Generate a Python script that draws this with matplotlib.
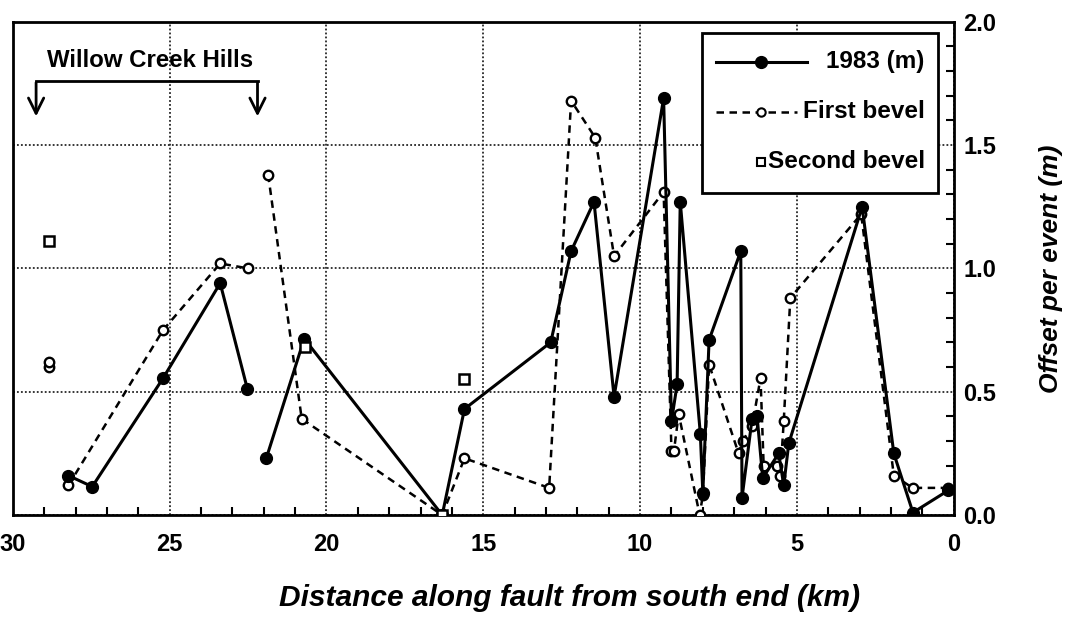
import numpy as np
import matplotlib.pyplot as plt
from matplotlib.lines import Line2D
from matplotlib.patches import Rectangle

plt.rcParams['font.family'] = ['Liberation Sans', 'DejaVu Sans']
plt.rcParams['font.weight'] = 'bold'

# 1983 offsets (m), nan = gap in the line
x_1983 = [28.23, 27.47, 25.21, 23.39, 22.52, np.nan,
          21.92, 20.71, 16.31, 15.60, 12.85, 12.20, 11.47, 10.83, 9.25, 9.00,
          8.82, 8.72, 8.08, 8.00, 7.80, 6.79, 6.75, 6.43, 6.27, 6.09, 5.58,
          5.42, 5.26, 2.92, 1.91, 1.30, 0.17]
y_1983 = [0.16, 0.115, 0.555, 0.94, 0.51, np.nan,
          0.23, 0.715, 0.0, 0.43, 0.70, 1.07, 1.27, 0.48, 1.69, 0.38,
          0.53, 1.27, 0.33, 0.09, 0.71, 1.07, 0.07, 0.39, 0.40, 0.15, 0.25,
          0.12, 0.29, 1.25, 0.25, 0.01, 0.10]

# first bevel
x_first = [28.85, np.nan, 28.85, np.nan,
           28.23, 25.21, 23.39, 22.50, np.nan,
           21.86, 20.79, 16.31, 15.60, 12.90, 12.20, 11.43, 10.83, 9.25, 9.00,
           8.92, 8.77, 8.10, 8.00, 7.80, 6.86, 6.73, 6.43, 6.16, 6.06, 5.64,
           5.53, 5.42, 5.21, 2.95, 1.91, 1.31, 0.18]
y_first = [0.60, np.nan, 0.62, np.nan,
           0.12, 0.75, 1.02, 1.00, np.nan,
           1.38, 0.39, 0.0, 0.23, 0.11, 1.68, 1.53, 1.05, 1.31, 0.26,
           0.26, 0.41, 0.0, 0.08, 0.61, 0.25, 0.30, 0.36, 0.555, 0.20, 0.20,
           0.16, 0.38, 0.88, 1.22, 0.16, 0.11, 0.11]

# second bevel
x_second = [28.85, 20.70, 15.60, 16.31]
y_second = [1.11, 0.68, 0.55, 0.0]

labels = ['1983 (m)', 'First bevel', 'Second bevel']

fig = plt.figure(figsize=(10.74, 6.22), dpi=100)
ax = fig.add_axes([0.012, 0.172, 0.876, 0.793])

style_1983 = dict(color='black', lw=2.2, ls='-', marker='o', mfc='black', mec='black')
style_first = dict(color='black', lw=1.8, ls=(0, (3, 2.2)), marker='o',
                   mfc='white', mec='black')
style_second = dict(ls='none', marker='s', mfc='white', mec='black')

ax.plot(x_first, y_first, ms=6.8, mew=1.7, zorder=3, **style_first)
ax.plot(x_1983, y_1983, ms=8.5, zorder=4, **style_1983)
ax.plot(x_second, y_second, ms=7, mew=1.8, zorder=5, **style_second)

ax.set_xlim(30, 0)
ax.set_ylim(0, 2.0)
ax.set_xticks([30, 25, 20, 15, 10, 5, 0])
ax.set_xticks(np.arange(0, 31, 1), minor=True)
ax.set_yticks([0, 0.5, 1.0, 1.5, 2.0])
ax.set_yticks(np.arange(0, 2.01, 0.1), minor=True)
ax.set_xticklabels(['30', '25', '20', '15', '10', '5', '0'])
ax.set_yticklabels(['0.0', '0.5', '1.0', '1.5', '2.0'])

ax.yaxis.tick_right()
ax.yaxis.set_label_position('right')
ax.tick_params(axis='both', which='both', direction='in', width=1.5,
               labelsize=17, color='black')
ax.tick_params(axis='x', which='major', length=0, pad=13)
ax.tick_params(axis='x', which='minor', length=6)
ax.tick_params(axis='y', which='major', length=0, pad=7)
ax.tick_params(axis='y', which='minor', length=6)

ax.grid(True, which='major', color='0.15', lw=1.3, ls=(0, (1, 1.2)))
for s in ax.spines.values():
    s.set_linewidth(2)
    s.set_color('black')

ax.set_xlabel('Distance along fault from south end (km)', fontsize=21.5,
              style='italic', fontweight='bold', labelpad=20)
ax.xaxis.label.set_x(0.592)
ax.set_ylabel('Offset per event (m)', fontsize=19, style='italic',
              fontweight='bold', rotation=90, labelpad=31)

# Willow Creek Hills bracket
ax.text(28.9, 1.795, 'Willow Creek Hills', fontsize=17.3, ha='left', va='bottom')
ax.plot([29.26, 22.2], [1.76, 1.76], color='black', lw=2, zorder=6)
for xb in [29.26, 22.2]:
    ax.annotate('', xy=(xb, 1.605), xytext=(xb, 1.765),
                arrowprops=dict(arrowstyle='->, head_length=0.5, head_width=0.25',
                                lw=2, color='black', mutation_scale=22))

# legend box with right-aligned labels
ax.add_patch(Rectangle((0.7322, 0.6531), 0.2508, 0.3246, transform=ax.transAxes,
                       facecolor='white', edgecolor='black', lw=2, zorder=10))
row_y = [0.9189, 0.8174, 0.7160]
ax.add_line(Line2D([0.7471, 0.8438], [row_y[0]] * 2, transform=ax.transAxes,
                   zorder=11, **style_1983, ms=0))
ax.add_line(Line2D([0.7949], [row_y[0]], transform=ax.transAxes, zorder=12,
                   **style_1983, ms=8.5))
ax.add_line(Line2D([0.7471, 0.8332], [row_y[1]] * 2, transform=ax.transAxes,
                   zorder=11, **style_first, ms=0))
ax.add_line(Line2D([0.7949], [row_y[1]], transform=ax.transAxes, zorder=12,
                   **style_first, ms=6, mew=1.5))
ax.add_line(Line2D([0.7949], [row_y[2]], transform=ax.transAxes, zorder=12,
                   **style_second, ms=6, mew=1.5))
for lab, yy in zip(labels, row_y):
    ax.text(0.9692, yy, lab, transform=ax.transAxes, fontsize=17.5,
            ha='right', va='center', zorder=12)

plt.savefig('out.png', dpi=100)
